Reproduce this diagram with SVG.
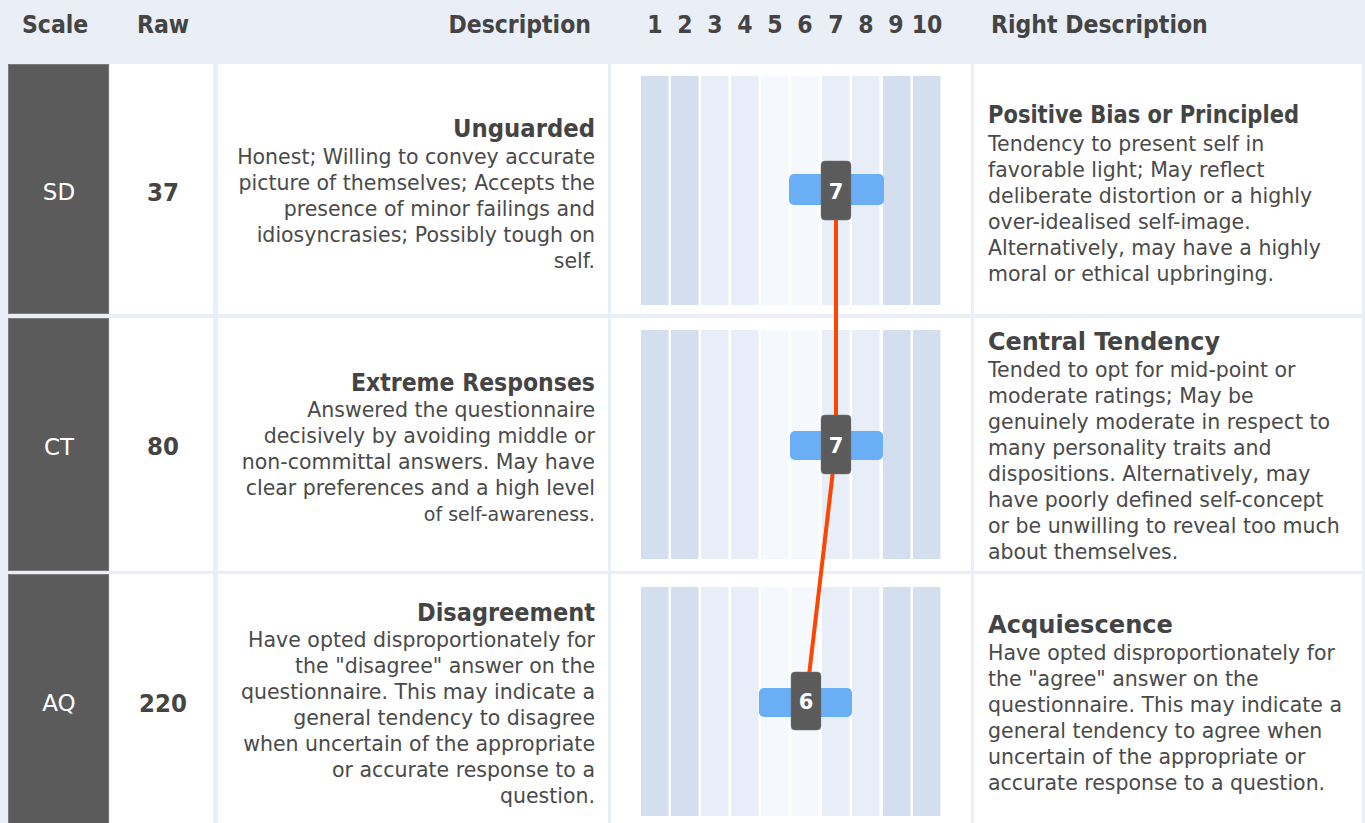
<svg xmlns="http://www.w3.org/2000/svg" width="1365" height="823" viewBox="0 0 1365 823">
<style>
.hdr{font-family:"DejaVu Sans Condensed","DejaVu Sans",sans-serif;font-stretch:condensed;font-weight:bold;font-size:24.5px;fill:#444}
.num{font-family:"DejaVu Sans Condensed","DejaVu Sans",sans-serif;font-stretch:condensed;font-weight:bold;font-size:24.5px;fill:#444;text-anchor:middle}
.scale{fill:#5b5b5b;stroke:#7a7a7a;stroke-width:1}
.scl{font-family:"DejaVu Sans",sans-serif;font-size:23px;fill:#fff;text-anchor:middle}
.raw{font-family:"DejaVu Sans Condensed","DejaVu Sans",sans-serif;font-stretch:condensed;font-weight:bold;font-size:25.5px;fill:#444;text-anchor:middle}
.cell{fill:#fff}
.ttl{font-family:"DejaVu Sans Condensed","DejaVu Sans",sans-serif;font-stretch:condensed;font-weight:bold;font-size:25.5px;fill:#444}
.body{font-family:"DejaVu Sans",sans-serif;font-size:20.5px;fill:#4a4a4a}
.end{text-anchor:end}
.b1{fill:#d3dfee}.b2{fill:#e8eef7}.b3{fill:#f5f8fc}
.blue{fill:#6aaef5}
.mk{fill:#5b5b5b;stroke:#777;stroke-width:0.5}
.mkt{font-family:"DejaVu Sans",sans-serif;font-weight:bold;font-size:21px;fill:#fff;text-anchor:middle}
.line{fill:none;stroke:#ff4500;stroke-width:4;stroke-linejoin:round}
</style>
<defs>
<g id="bars">
<rect class="b1" x="641" y="0" width="27.5" height="229"/>
<rect class="b1" x="671" y="0" width="27.5" height="229"/>
<rect class="b2" x="701" y="0" width="27.5" height="229"/>
<rect class="b2" x="731" y="0" width="27.5" height="229"/>
<rect class="b3" x="761" y="0" width="27.5" height="229"/>
<rect class="b3" x="791" y="0" width="27.5" height="229"/>
<rect class="b2" x="822" y="0" width="27.5" height="229"/>
<rect class="b2" x="852" y="0" width="27.5" height="229"/>
<rect class="b1" x="883" y="0" width="27.5" height="229"/>
<rect class="b1" x="913" y="0" width="27.5" height="229"/>
</g>
</defs>
<rect width="1365" height="823" fill="#e9eef7"/>

<g id="header">
<text class="hdr" x="22" y="33">Scale</text>
<text class="hdr" x="137" y="33">Raw</text>
<text class="hdr end" x="591" y="33">Description</text>
<text class="num" x="655" y="33">1</text>
<text class="num" x="685" y="33">2</text>
<text class="num" x="715" y="33">3</text>
<text class="num" x="745" y="33">4</text>
<text class="num" x="775" y="33">5</text>
<text class="num" x="805" y="33">6</text>
<text class="num" x="836" y="33">7</text>
<text class="num" x="866" y="33">8</text>
<text class="num" x="896" y="33">9</text>
<text class="num" x="927" y="33">10</text>
<text class="hdr" x="991" y="33">Right Description</text>
</g>

<g id="row-SD">
<rect class="scale" x="8.5" y="64.5" width="100" height="249"/>
<text class="scl" x="59" y="200">SD</text>
<rect class="cell" x="110" y="64" width="103" height="250"/>
<text class="raw" x="163" y="201">37</text>
<rect class="cell" x="218" y="64" width="390" height="250"/>
<text class="ttl end" x="595" y="137" textLength="142" lengthAdjust="spacingAndGlyphs">Unguarded</text>
<text class="body end" x="595" y="164">Honest; Willing to convey accurate</text>
<text class="body end" x="595" y="190">picture of themselves; Accepts the</text>
<text class="body end" x="595" y="216">presence of minor failings and</text>
<text class="body end" x="595" y="242">idiosyncrasies; Possibly tough on</text>
<text class="body end" x="595" y="268">self.</text>
<rect class="cell" x="611" y="64" width="360" height="250"/>
<use href="#bars" y="76"/>
<rect class="cell" x="974" y="64" width="388" height="250"/>
<text class="ttl" x="988" y="123" textLength="311" lengthAdjust="spacingAndGlyphs">Positive Bias or Principled</text>
<text class="body" x="988" y="151">Tendency to present self in</text>
<text class="body" x="988" y="177">favorable light; May reflect</text>
<text class="body" x="988" y="203">deliberate distortion or a highly</text>
<text class="body" x="988" y="229">over-idealised self-image.</text>
<text class="body" x="988" y="255">Alternatively, may have a highly</text>
<text class="body" x="988" y="281">moral or ethical upbringing.</text>
</g>

<g id="row-CT">
<rect class="scale" x="8.5" y="318.5" width="100" height="252"/>
<text class="scl" x="59" y="455">CT</text>
<rect class="cell" x="110" y="318" width="103" height="253"/>
<text class="raw" x="163" y="455">80</text>
<rect class="cell" x="218" y="318" width="390" height="253"/>
<text class="ttl end" x="595" y="391" textLength="244" lengthAdjust="spacingAndGlyphs">Extreme Responses</text>
<text class="body end" x="595" y="417">Answered the questionnaire</text>
<text class="body end" x="595" y="443">decisively by avoiding middle or</text>
<text class="body end" x="595" y="469">non-committal answers. May have</text>
<text class="body end" x="595" y="495">clear preferences and a high level</text>
<text class="body end" x="595" y="521" style="font-size:19px">of self-awareness.</text>
<rect class="cell" x="611" y="318" width="360" height="253"/>
<use href="#bars" y="330"/>
<rect class="cell" x="974" y="318" width="388" height="253"/>
<text class="ttl" x="988" y="350" textLength="232" lengthAdjust="spacingAndGlyphs">Central Tendency</text>
<text class="body" x="988" y="377">Tended to opt for mid-point or</text>
<text class="body" x="988" y="403">moderate ratings; May be</text>
<text class="body" x="988" y="429">genuinely moderate in respect to</text>
<text class="body" x="988" y="455">many personality traits and</text>
<text class="body" x="988" y="481">dispositions. Alternatively, may</text>
<text class="body" x="988" y="507">have poorly defined self-concept</text>
<text class="body" x="988" y="533">or be unwilling to reveal too much</text>
<text class="body" x="988" y="559">about themselves.</text>
</g>

<g id="row-AQ">
<rect class="scale" x="8.5" y="574.5" width="100" height="260"/>
<text class="scl" x="59" y="711">AQ</text>
<rect class="cell" x="110" y="574" width="103" height="260"/>
<text class="raw" x="163" y="712">220</text>
<rect class="cell" x="218" y="574" width="390" height="260"/>
<text class="ttl end" x="595" y="621" textLength="178" lengthAdjust="spacingAndGlyphs">Disagreement</text>
<text class="body end" x="595" y="647">Have opted disproportionately for</text>
<text class="body end" x="595" y="673">the "disagree" answer on the</text>
<text class="body end" x="595" y="699">questionnaire. This may indicate a</text>
<text class="body end" x="595" y="725">general tendency to disagree</text>
<text class="body end" x="595" y="751">when uncertain of the appropriate</text>
<text class="body end" x="595" y="777">or accurate response to a</text>
<text class="body end" x="595" y="803">question.</text>
<rect class="cell" x="611" y="574" width="360" height="260"/>
<use href="#bars" y="587"/>
<rect class="cell" x="974" y="574" width="388" height="260"/>
<text class="ttl" x="988" y="633" textLength="185" lengthAdjust="spacingAndGlyphs">Acquiescence</text>
<text class="body" x="988" y="660">Have opted disproportionately for</text>
<text class="body" x="988" y="686">the "agree" answer on the</text>
<text class="body" x="988" y="712">questionnaire. This may indicate a</text>
<text class="body" x="988" y="738">general tendency to agree when</text>
<text class="body" x="988" y="764">uncertain of the appropriate or</text>
<text class="body" x="988" y="790">accurate response to a question.</text>
</g>

<g id="connectors">
<path class="line" d="M836,190 L836,445 L806,701"/>
</g>

<g id="marker-SD">
<rect class="blue" x="789" y="174" width="95" height="31" rx="5"/>
<rect class="mk" x="821" y="161" width="30" height="59" rx="4"/>
<text class="mkt" x="836" y="199">7</text>
</g>
<g id="marker-CT">
<rect class="blue" x="790" y="431" width="93" height="29" rx="5"/>
<rect class="mk" x="821" y="415" width="30" height="59" rx="4"/>
<text class="mkt" x="836" y="453">7</text>
</g>
<g id="marker-AQ">
<rect class="blue" x="759" y="688" width="93" height="29" rx="5"/>
<rect class="mk" x="791" y="672" width="30" height="58" rx="4"/>
<text class="mkt" x="806" y="709">6</text>
</g>
</svg>
